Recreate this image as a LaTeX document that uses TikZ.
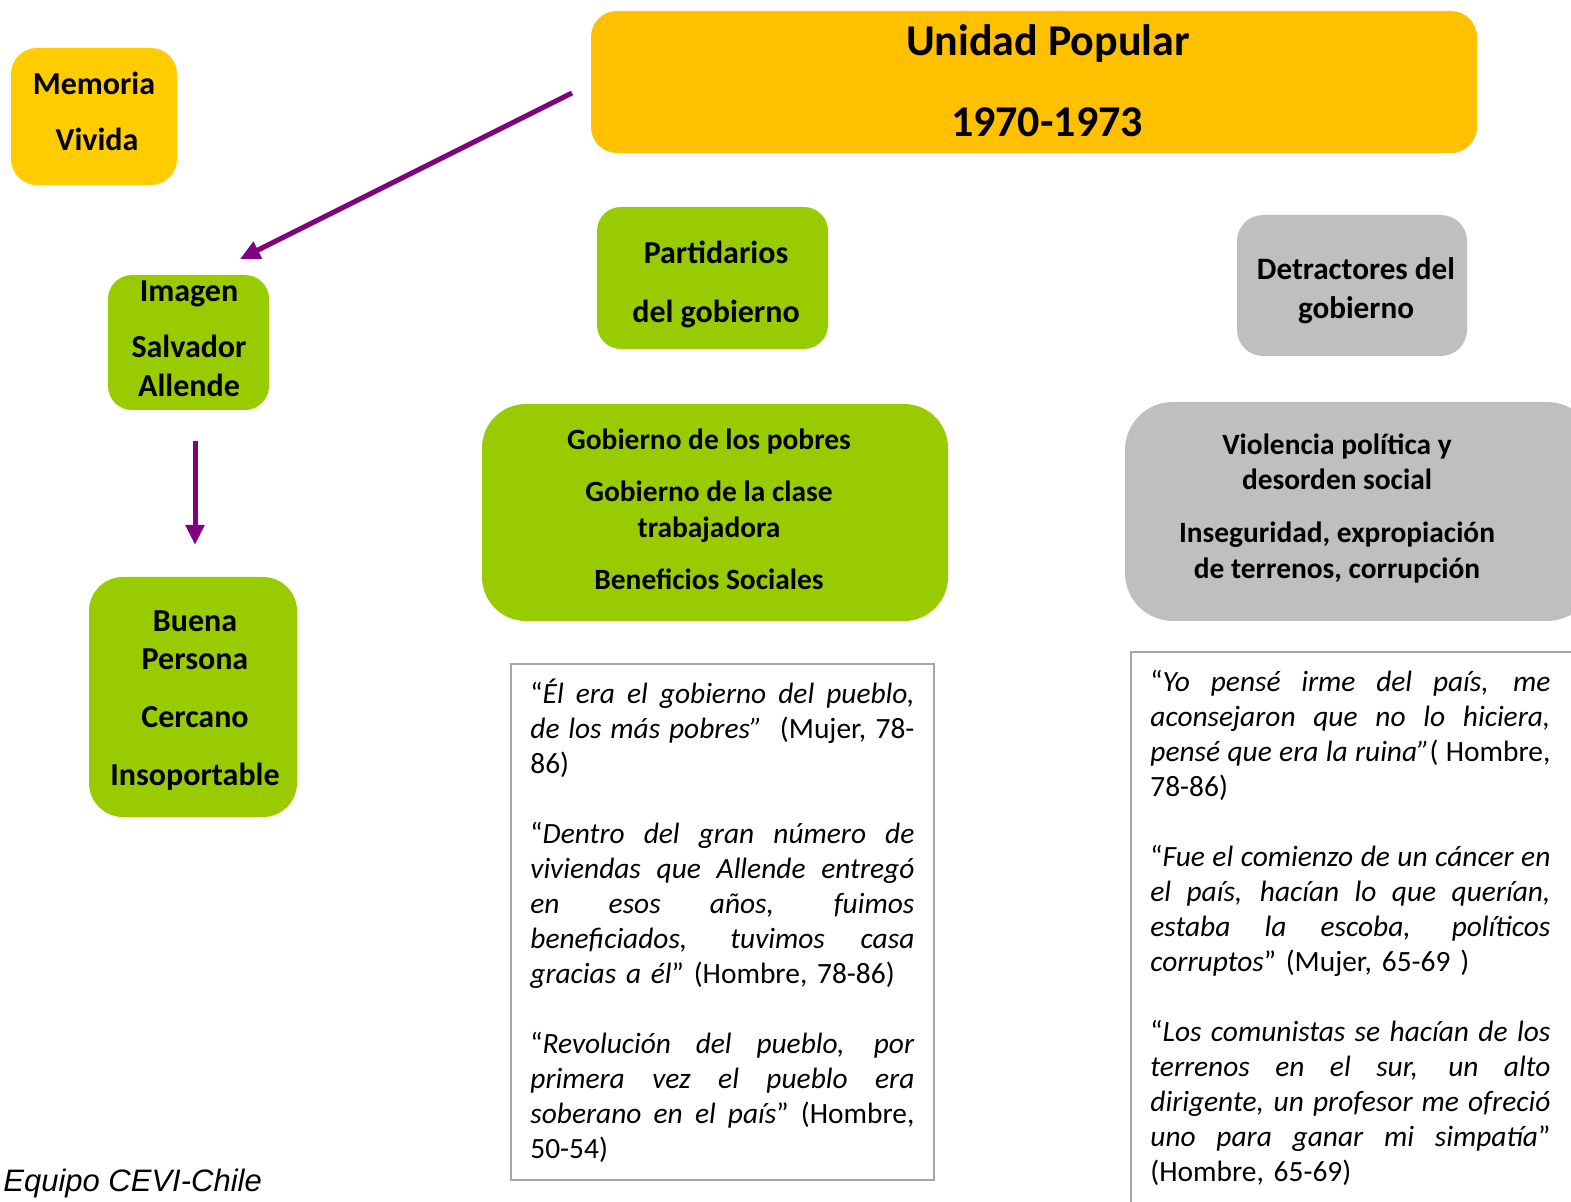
\documentclass[tikz,border=0pt]{standalone}
\usepackage{fontspec}
\setmainfont{Carlito}
\newfontfamily\arialf{Liberation Sans}
\usetikzlibrary{arrows.meta}
\definecolor{ygold}{HTML}{FFC000}
\definecolor{yel}{HTML}{FFCC00}
\definecolor{lgreen}{HTML}{99CC00}
\definecolor{lgrey}{HTML}{BFBFBF}
\definecolor{purp}{HTML}{800080}
\definecolor{qframe}{HTML}{A6A6A6}
\newcommand{\jL}[1]{\hbox to 192pt{\spaceskip=0.226em plus 1fil\relax #1}}
\newcommand{\jR}[1]{\hbox to 200pt{\spaceskip=0.226em plus 1fil\relax #1}}
\begin{document}
\begin{tikzpicture}[x=0.5pt,y=-0.5pt,
  box/.style={draw=none,inner sep=0,rounded corners=#1},
  box/.default=12pt,
  lbl/.style={anchor=base,inner sep=0,font=\bfseries\fontsize{16}{19}\selectfont},
  lblm/.style={anchor=base,inner sep=0,font=\bfseries\fontsize{14.7}{17.5}\selectfont},
  lblb/.style={anchor=base,inner sep=0,font=\bfseries\fontsize{22}{26}\selectfont},
  quote/.style={anchor=base west,inner sep=0,align=left,font=\fontsize{14.7}{17.5}\selectfont},
  qbox/.style={draw=qframe,line width=1pt,fill=white,inner sep=0},
  parrow/.style={draw=purp,line width=2.5pt,-{Triangle[length=10pt,width=9pt]}}]
\useasboundingbox (0,0) rectangle (1571,1202);
\clip (0,0) rectangle (1571,1202);

% boxes
\node[box=13pt,fill=yel,minimum width=83pt,minimum height=68.5pt] (memoria) at (94,116.5) {};
\node[box=13pt,fill=ygold,minimum width=443pt,minimum height=71pt] (unidad) at (1034,82) {};
\node[box=12pt,fill=lgreen,minimum width=80.5pt,minimum height=67.5pt] (imagen) at (188.5,342.5) {};
\node[box=17pt,fill=lgreen,minimum width=104pt,minimum height=120pt] (buena) at (193,697) {};
\node[box=12pt,fill=lgreen,minimum width=115.5pt,minimum height=71pt] (partid) at (712.5,278) {};
\node[box=22pt,fill=lgreen,minimum width=233pt,minimum height=108.5pt] (gobierno) at (715,512.5) {};
\node[box=13pt,fill=lgrey,minimum width=115pt,minimum height=70.5pt] (detract) at (1352,285.5) {};
\node[box=24pt,fill=lgrey,minimum width=235pt,minimum height=109.5pt] (violencia) at (1360,511.5) {};
\node[qbox,minimum width=211.5pt,minimum height=258pt] (qleft) at (722.5,922) {};
\node[qbox,minimum width=234.5pt,minimum height=289pt] (qright) at (1365.5,941) {};

% labels
\node[lbl] (mem1) at (94,95) {Memoria};
\node[lbl] (mem2) at (97,151) {Vivida};
\node[lblb] (uni1) at (1048,56) {Unidad Popular};
\node[lblb] (uni2) at (1047,137) {1970-1973};
\node[lbl] (img1) at (189,302) {Imagen};
\node[lbl] (img2) at (189,358) {Salvador};
\node[lbl] (img3) at (189,397) {Allende};
\node[lbl] (bue1) at (195,632) {Buena};
\node[lbl] (bue2) at (195,670) {Persona};
\node[lbl] (bue3) at (195,728) {Cercano};
\node[lbl] (bue4) at (195,786) {Insoportable};
\node[lbl] (par1) at (716,264) {Partidarios};
\node[lbl] (par2) at (716,323) {del gobierno};
\node[lblm] (gob1) at (709,450) {Gobierno de los pobres};
\node[lblm] (gob2) at (709,502) {Gobierno de la clase};
\node[lblm] (gob3) at (709,538) {trabajadora};
\node[lblm] (gob4) at (709,590) {Beneficios Sociales};
\node[lbl,font=\bfseries\fontsize{15.6}{19}\selectfont] (det1) at (1356,280) {Detractores del};
\node[lbl,font=\bfseries\fontsize{15.6}{19}\selectfont] (det2) at (1356,319) {gobierno};
\node[lblm] (vio1) at (1337,455) {Violencia política y};
\node[lblm] (vio2) at (1337,490) {desorden social};
\node[lblm] (vio3) at (1337,543) {Inseguridad, expropiación};
\node[lblm] (vio4) at (1337,579) {de terrenos, corrupción};

% quotes
\node[quote,text width=192pt] (qltext) at (530,704) {%
\jL{“\textit{Él era el gobierno del pueblo,}}
\jL{\textit{de los más pobres”} \ (Mujer, 78-}
\hbox{86)}
\vskip17.5pt
\jL{“\textit{Dentro del gran número de}}
\jL{\textit{viviendas que Allende entregó}}
\jL{\textit{en esos años, fuimos}}
\jL{\textit{beneficiados, tuvimos casa}}
\hbox{\textit{gracias a él}” (Hombre, 78-86)}
\vskip17.5pt
\jL{“\textit{Revolución del pueblo, por}}
\jL{\textit{primera vez el pueblo era}}
\jL{\textit{soberano en el país}” (Hombre,}
\hbox{50-54)}};

\node[quote,text width=200pt] (qrtext) at (1150,692) {%
\jR{“\textit{Yo pensé irme del país, me}}
\jR{\textit{aconsejaron que no lo hiciera,}}
\jR{\textit{pensé que era la ruina”}( Hombre,}
\hbox{78-86)}
\vskip17.5pt
\jR{“\textit{Fue el comienzo de un cáncer en}}
\jR{\textit{el país, hacían lo que querían,}}
\jR{\textit{estaba la escoba, políticos}}
\hbox{\textit{corruptos}” (Mujer, 65-69 )}
\vskip17.5pt
\jR{“\textit{Los comunistas se hacían de los}}
\jR{\textit{terrenos en el sur, un alto}}
\jR{\textit{dirigente, un profesor me ofreció}}
\jR{\textit{uno para ganar mi simpatía}”}
\hbox{(Hombre, 65-69)}};

\node[anchor=base west,inner sep=0,font=\arialf\itshape\fontsize{15.5}{18}\selectfont] (equipo) at (3,1192) {Equipo CEVI-Chile};

% arrows
\coordinate (a1s) at (572,93);
\coordinate (a1e) at (240,259);
\coordinate (a2s) at (195,441);
\coordinate (a2e) at (195,545);
\draw[parrow] (a1s) -- (a1e);
\draw[parrow] (a2s) -- (a2e);
\end{tikzpicture}
\end{document}
